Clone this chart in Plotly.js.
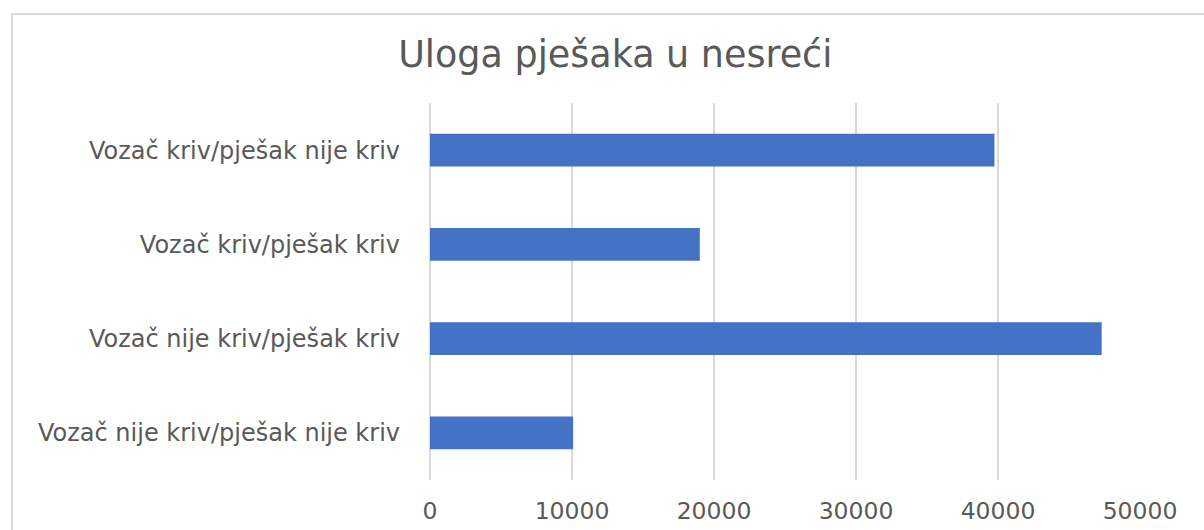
<!DOCTYPE html>
<html>
<head>
<meta charset="utf-8">
<script src="https://cdn.plot.ly/plotly-3.0.1.min.js"></script>
<style>
  html, body { margin: 0; padding: 0; background: #fff; }
  #wrap { position: relative; width: 1204px; height: 530px; overflow: hidden; }
  #chart { position: absolute; left: 0; top: 0; width: 1204px; height: 530px; }
  #frame { position: absolute; left: 11px; top: 13px; width: 1300px; height: 600px;
           border-left: 2px solid #d9d9d9; border-top: 2px solid #d9d9d9; pointer-events: none; }
</style>
</head>
<body>
<div id="wrap">
  <div id="chart"></div>
  <div id="frame"></div>
</div>
<script>
const chartTitle = "Uloga pješaka u nesreći";
const categories = [
  "Vozač kriv/pješak nije kriv",
  "Vozač kriv/pješak kriv",
  "Vozač nije kriv/pješak kriv",
  "Vozač nije kriv/pješak nije kriv"
];
const values = [39750, 19000, 47300, 10080];
const tickValues = [0, 10000, 20000, 30000, 40000, 50000];
const tickLabels = ["0", "10000", "20000", "30000", "40000", "50000"];

const textColor = "#595959";
const fontFam = "'DejaVu Sans', 'Open Sans', sans-serif";

const trace = {
  type: "bar",
  orientation: "h",
  x: values,
  y: categories,
  marker: { color: "#4472C4" },
  hoverinfo: "x+y"
};

const layout = {
  width: 1204,
  height: 530,
  paper_bgcolor: "#ffffff",
  plot_bgcolor: "#ffffff",
  margin: { l: 430, r: 64, t: 103, b: 50, pad: 0 },
  showlegend: false,
  bargap: 0.65,
  title: {
    text: chartTitle,
    font: { family: fontFam, size: 36.5, color: textColor },
    x: 0.511, xref: "container", xanchor: "center",
    y: 0.898, yref: "container", yanchor: "middle"
  },
  xaxis: {
    range: [0, 50000],
    tickvals: tickValues,
    ticktext: tickLabels,
    showgrid: true,
    gridcolor: "#d9d9d9",
    gridwidth: 2,
    zeroline: true,
    zerolinecolor: "#d9d9d9",
    zerolinewidth: 2,
    showline: false,
    ticks: "",
    ticklabelstandoff: 14,
    tickfont: { family: fontFam, size: 23.5, color: textColor },
    fixedrange: true
  },
  yaxis: {
    autorange: "reversed",
    showgrid: false,
    zeroline: false,
    showline: false,
    ticks: "",
    ticklabelstandoff: 29,
    tickfont: { family: fontFam, size: 24, color: textColor },
    fixedrange: true
  }
};

Plotly.newPlot("chart", [trace], layout, { displayModeBar: false, staticPlot: true });
</script>
</body>
</html>
